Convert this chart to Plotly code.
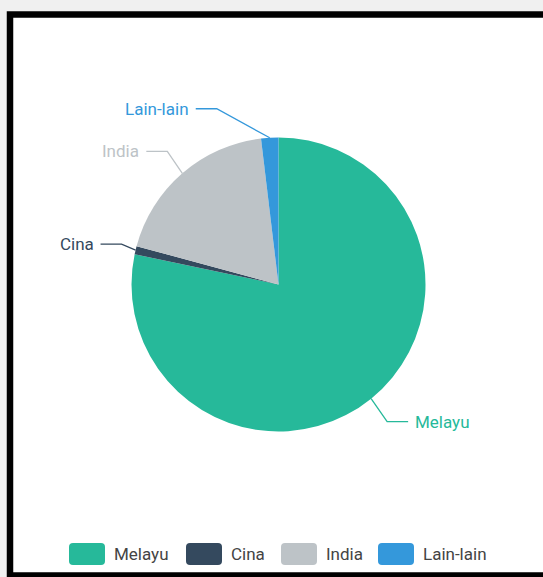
import math
import plotly.graph_objects as go

W, H = 543, 577

categories = ["Melayu", "Cina", "India", "Lain-lain"]
values = [78.3, 0.9, 18.9, 1.9]
colors = ["#26B99A", "#34495E", "#BDC3C7", "#3498DB"]

# pie geometry in pixels
CX, CY, R = 278.5, 284.5, 147
# where each label line bends, relative to the slice edge (px)
elbow_offsets = [(16, 23), (-14, -6), (-15, -22), (-53, -29)]
SEG2 = 21
GAP = 5

# legend layout (px)
legend_x = [69, 186, 281, 378]
SW_W, SW_H, LEG_Y, CORNER = 36, 22, 554, 4

FONT = "Roboto, Liberation Sans, Arial, sans-serif"


def px(x):
    return x / W


def py(y):
    return 1 - y / H


def rounded_rect(x0, y0, x1, y1, r):
    # path in paper coords, built from pixel values
    rx, ry = r / W, r / H
    a, b, c, d = px(x0), py(y1), px(x1), py(y0)  # left, bottom, right, top
    return (f"M {a+rx},{d} L {c-rx},{d} Q {c},{d} {c},{d-ry} "
            f"L {c},{b+ry} Q {c},{b} {c-rx},{b} L {a+rx},{b} "
            f"Q {a},{b} {a},{b+ry} L {a},{d-ry} Q {a},{d} {a+rx},{d} Z")


fig = go.Figure()

fig.add_trace(go.Pie(
    labels=categories,
    values=values,
    sort=False,
    direction="clockwise",
    rotation=0,
    marker=dict(colors=colors, line=dict(width=0)),
    textinfo="none",
    hoverinfo="label+percent",
    domain=dict(x=[px(CX - R), px(CX + R)], y=[py(CY + R), py(CY - R)]),
    showlegend=False,
))

# frame around the chart
fig.add_shape(type="rect", xref="paper", yref="paper",
              x0=px(10), x1=px(W + 20), y0=py(575.5), y1=py(14.5),
              line=dict(color="black", width=6.5), fillcolor="white", layer="below")

# outside labels with two-segment leader lines
total = sum(values)
cum = 0
for cat, v, col, (dx, dy) in zip(categories, values, colors, elbow_offsets):
    mid = (cum + v / 2) / total * 2 * math.pi
    cum += v
    ex = CX + R * math.sin(mid)
    ey = CY - R * math.cos(mid)
    bx, by = ex + dx, ey + dy
    side = 1 if math.sin(mid) > 0 else -1
    tx = bx + side * SEG2
    fig.add_shape(type="path", xref="paper", yref="paper",
                  path=f"M {px(ex)},{py(ey)} L {px(bx)},{py(by)} L {px(tx)},{py(by)}",
                  line=dict(color=col, width=1.3))
    fig.add_annotation(x=px(tx + side * GAP), y=py(by), xref="paper", yref="paper",
                       text=cat, showarrow=False,
                       xanchor="left" if side > 0 else "right", yanchor="middle",
                       font=dict(color=col, size=17, family=FONT))

# legend with rounded swatches
for cat, col, lx in zip(categories, colors, legend_x):
    fig.add_shape(type="path", xref="paper", yref="paper",
                  path=rounded_rect(lx, LEG_Y - SW_H / 2, lx + SW_W, LEG_Y + SW_H / 2, CORNER),
                  fillcolor=col, line=dict(width=0))
    fig.add_annotation(x=px(lx + SW_W + 7), y=py(LEG_Y), xref="paper", yref="paper",
                       text=cat, showarrow=False, xanchor="left", yanchor="middle",
                       font=dict(color="#444", size=17, family=FONT))

fig.update_layout(
    width=W,
    height=H,
    margin=dict(l=0, r=0, t=0, b=0),
    paper_bgcolor="#f0f0f0",
    plot_bgcolor="#f0f0f0",
    showlegend=False,
    font=dict(family=FONT),
)

fig.write_html("out.html", config={"displayModeBar": False},
               post_script="document.body.style.margin='0';")
